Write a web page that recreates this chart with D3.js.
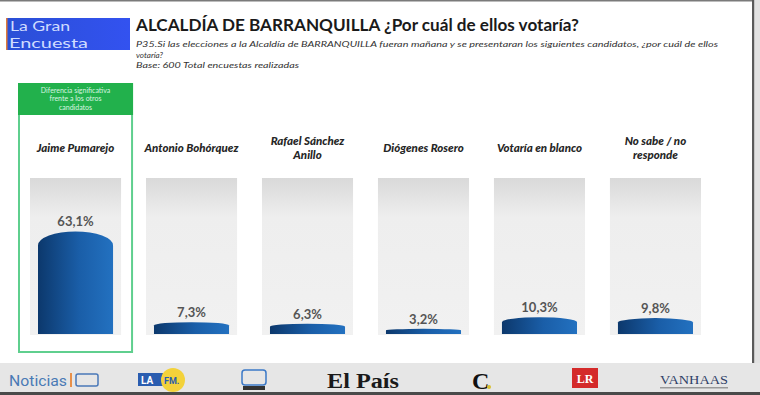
<!DOCTYPE html>
<html>
<head>
<meta charset="utf-8">
<script src="https://cdn.jsdelivr.net/npm/d3@7"></script>
<style>
  body { margin: 0; background: #fff; }
  svg { display: block; }
</style>
</head>
<body>
<div id="chart"></div>
<script>
// data
const categories = ["Jaime Pumarejo", "Antonio Bohórquez", "Rafael Sánchez Anillo",
                    "Diógenes Rosero", "Votaría en blanco", "No sabe / no responde"];
const categoryLines = [["Jaime Pumarejo"], ["Antonio Bohórquez"], ["Rafael Sánchez", "Anillo"],
                       ["Diógenes Rosero"], ["Votaría en blanco"], ["No sabe / no", "responde"]];
const values = [63.1, 7.3, 6.3, 3.2, 10.3, 9.8];
const highlighted = ["Jaime Pumarejo"];

const titleText = "ALCALDÍA DE BARRANQUILLA ¿Por cuál de ellos votaría?";
const subtitleLines = [
    "P35.Si las elecciones a la Alcaldía de BARRANQUILLA fueran mañana y se presentaran los siguientes candidatos, ¿por cuál de ellos",
    "votaría?",
    "Base: 600 Total encuestas realizadas"
];
const noteLines = ["Diferencia significativa", "frente a los otros", "candidatos"];

const W = 760, H = 395;
const svg = d3.select("#chart").append("svg").attr("width", W).attr("height", H);

// gradients
const defs = svg.append("defs");
const barGrad = defs.append("linearGradient").attr("id", "barGrad")
    .attr("x1", "0%").attr("x2", "100%").attr("y1", "0%").attr("y2", "0%");
barGrad.append("stop").attr("offset", "0%").attr("stop-color", "#0c386c");
barGrad.append("stop").attr("offset", "55%").attr("stop-color", "#1a5ea8");
barGrad.append("stop").attr("offset", "100%").attr("stop-color", "#2371c0");

const bgGrad = defs.append("linearGradient").attr("id", "bgGrad")
    .attr("x1", "0%").attr("x2", "0%").attr("y1", "0%").attr("y2", "100%");
bgGrad.append("stop").attr("offset", "0%").attr("stop-color", "#d9d9d9");
bgGrad.append("stop").attr("offset", "25%").attr("stop-color", "#eeeeee");
bgGrad.append("stop").attr("offset", "100%").attr("stop-color", "#f1f1f1");

const logoGrad = defs.append("linearGradient").attr("id", "logoGrad")
    .attr("x1", "0%").attr("x2", "100%");
logoGrad.append("stop").attr("offset", "0%").attr("stop-color", "#2a4fd6");
logoGrad.append("stop").attr("offset", "100%").attr("stop-color", "#3352f0");

// frame
svg.append("rect").attr("x", 0).attr("y", 0).attr("width", W).attr("height", 1.5).attr("fill", "#7a7a7a");
svg.append("rect").attr("x", 754).attr("y", 0).attr("width", 6).attr("height", H).attr("fill", "#e2e2e2");
svg.append("rect").attr("x", 752).attr("y", 0).attr("width", 2.2).attr("height", 363).attr("fill", "#5a5a5a");

// fit text to a width measured on the slide
function fit(sel, width) {
    sel.attr("textLength", width).attr("lengthAdjust", "spacingAndGlyphs");
}

// logo
svg.append("rect").attr("x", 6).attr("y", 18).attr("width", 124).attr("height", 32).attr("fill", "url(#logoGrad)");
svg.append("rect").attr("x", 6).attr("y", 18).attr("width", 1.5).attr("height", 32).attr("fill", "#e07a3a");
svg.append("text").attr("x", 10).attr("y", 31).attr("font-family", "Lato, sans-serif")
    .attr("font-size", 13.5).attr("fill", "#cfdcff").text("La Gran").call(fit, 60);
svg.append("text").attr("x", 9).attr("y", 47.5).attr("font-family", "Lato, sans-serif")
    .attr("font-size", 13.5).attr("fill", "#cfdcff").text("Encuesta").call(fit, 79);

// title and subtitle
svg.append("text").attr("x", 136).attr("y", 31)
    .attr("font-family", "Lato, sans-serif").attr("font-weight", "bold")
    .attr("font-size", 17.5).attr("fill", "#1a1a1a").text(titleText).call(fit, 443);

const subWidths = [582, 27, 163];
svg.selectAll(".sub").data(subtitleLines).join("text").attr("class", "sub")
    .attr("x", 136).attr("y", (d, i) => 47 + i * 10.5)
    .attr("font-family", "Lato, sans-serif").attr("font-style", "italic")
    .attr("font-size", 8.5).attr("fill", "#333")
    .text(d => d)
    .each(function(d, i) { d3.select(this).call(fit, subWidths[i]); });

// scales
const x = d3.scaleBand().domain(categories).range([30, 701]).paddingInner(0.215).paddingOuter(0);
const y = d3.scaleLinear().domain([0, 96]).range([334, 178]);

// highlight box
highlighted.forEach(c => {
    const bx = x(c) - 11, bw = x.bandwidth() + 22;
    svg.append("rect").attr("x", bx).attr("y", 84).attr("width", bw).attr("height", 268)
        .attr("fill", "none").attr("stroke", "#5fcf8e").attr("stroke-width", 2);
    svg.append("rect").attr("x", bx - 1).attr("y", 83).attr("width", bw + 2).attr("height", 32)
        .attr("fill", "#22b14c");
    svg.selectAll(".note").data(noteLines).join("text").attr("class", "note")
        .attr("x", bx + bw / 2).attr("y", (d, i) => 93 + i * 8.3)
        .attr("text-anchor", "middle").attr("font-family", "Lato, sans-serif")
        .attr("font-size", 7).attr("fill", "#d9f5e2").text(d => d);
});

// column backgrounds
svg.selectAll(".bg").data(categories).join("rect").attr("class", "bg")
    .attr("x", d => x(d)).attr("y", y(96))
    .attr("width", x.bandwidth()).attr("height", y(0) - y(96) + 1)
    .attr("fill", "url(#bgGrad)");

// category labels
const labelG = svg.selectAll(".cat").data(categories).join("text").attr("class", "cat")
    .attr("text-anchor", "middle")
    .attr("font-family", "Lato, sans-serif").attr("font-style", "italic").attr("font-weight", "900")
    .attr("font-size", 11.5).attr("fill", "#262626");
labelG.each(function(d, i) {
    const lines = categoryLines[i];
    const y0 = lines.length === 1 ? 152 : 145;
    d3.select(this).selectAll("tspan").data(lines).join("tspan")
        .attr("x", x(d) + x.bandwidth() / 2)
        .attr("y", (l, j) => y0 + j * 14)
        .text(l => l);
});

// cylinder-like bars
const inset = 8;
function barPath(d, i) {
    const x0 = x(categories[i]) + inset, x1 = x(categories[i]) + x.bandwidth() - inset;
    const top = y(d), base = y(0);
    const ry = Math.min(14, (base - top) * 0.28);
    const rx = (x1 - x0) / 2;
    return `M${x0},${base}L${x0},${top + ry}A${rx},${ry} 0 0 1 ${x1},${top + ry}L${x1},${base}Z`;
}
svg.selectAll(".bar").data(values).join("path").attr("class", "bar")
    .attr("d", barPath).attr("fill", "url(#barGrad)");

// value labels
svg.selectAll(".val").data(values).join("text").attr("class", "val")
    .attr("x", (d, i) => x(categories[i]) + x.bandwidth() / 2)
    .attr("y", d => y(d) - 5)
    .attr("text-anchor", "middle").attr("font-family", "Lato, sans-serif")
    .attr("font-weight", "bold").attr("font-size", 13).attr("fill", "#555")
    .text(d => d.toFixed(1).replace(".", ",") + "%");

// bottom strip with media logos
svg.append("rect").attr("x", 0).attr("y", 363).attr("width", W).attr("height", 30).attr("fill", "#e6e6e6");
svg.append("rect").attr("x", 0).attr("y", 392).attr("width", W).attr("height", 3).attr("fill", "#4a4a4a");

const logos = svg.append("g");
logos.append("text").attr("x", 9).attr("y", 386).attr("font-family", "Roboto, sans-serif")
    .attr("font-size", 14).attr("fill", "#4a7ab5").text("Noticias").call(fit, 58);
logos.append("rect").attr("x", 70).attr("y", 373).attr("width", 2).attr("height", 14).attr("fill", "#e8904a");
logos.append("rect").attr("x", 76).attr("y", 374).attr("width", 22).attr("height", 12).attr("rx", 2)
    .attr("fill", "none").attr("stroke", "#4a78b8").attr("stroke-width", 1.5);
logos.append("rect").attr("x", 138).attr("y", 373).attr("width", 25).attr("height", 13).attr("fill", "#2a5db0");
logos.append("text").attr("x", 141).attr("y", 384).attr("font-family", "Roboto, sans-serif")
    .attr("font-weight", "bold").attr("font-size", 10).attr("fill", "#fff").text("LA");
logos.append("circle").attr("cx", 173).attr("cy", 380).attr("r", 12).attr("fill", "#f3d23a");
logos.append("text").attr("x", 164).attr("y", 384).attr("font-family", "Roboto, sans-serif")
    .attr("font-weight", "bold").attr("font-size", 9).attr("fill", "#2a5db0").text("FM.");
logos.append("rect").attr("x", 242).attr("y", 370).attr("width", 24).attr("height", 15).attr("rx", 3)
    .attr("fill", "none").attr("stroke", "#3b79c7").attr("stroke-width", 1.5);
logos.append("rect").attr("x", 243).attr("y", 386).attr("width", 22).attr("height", 4).attr("fill", "#333");
logos.append("text").attr("x", 327).attr("y", 388).attr("font-family", "Liberation Serif, serif")
    .attr("font-weight", "bold").attr("font-size", 20).attr("fill", "#1a1a1a").text("El País").call(fit, 72);
logos.append("text").attr("x", 472).attr("y", 389).attr("font-family", "Liberation Serif, serif")
    .attr("font-weight", "bold").attr("font-size", 24).attr("fill", "#111").text("C");
logos.append("circle").attr("cx", 489).attr("cy", 387).attr("r", 2).attr("fill", "#d8c030");
logos.append("rect").attr("x", 572).attr("y", 368).attr("width", 26).attr("height", 20).attr("fill", "#d42a2a");
logos.append("text").attr("x", 585).attr("y", 383).attr("text-anchor", "middle")
    .attr("font-family", "Liberation Serif, serif").attr("font-weight", "bold")
    .attr("font-size", 12).attr("fill", "#fff").text("LR");
logos.append("text").attr("x", 660).attr("y", 384).attr("font-family", "Liberation Serif, serif")
    .attr("font-size", 13).attr("fill", "#2f3f66").text("VANHAAS").call(fit, 68);
logos.append("rect").attr("x", 660).attr("y", 387).attr("width", 68).attr("height", 1.5).attr("fill", "#999");
</script>
</body>
</html>
